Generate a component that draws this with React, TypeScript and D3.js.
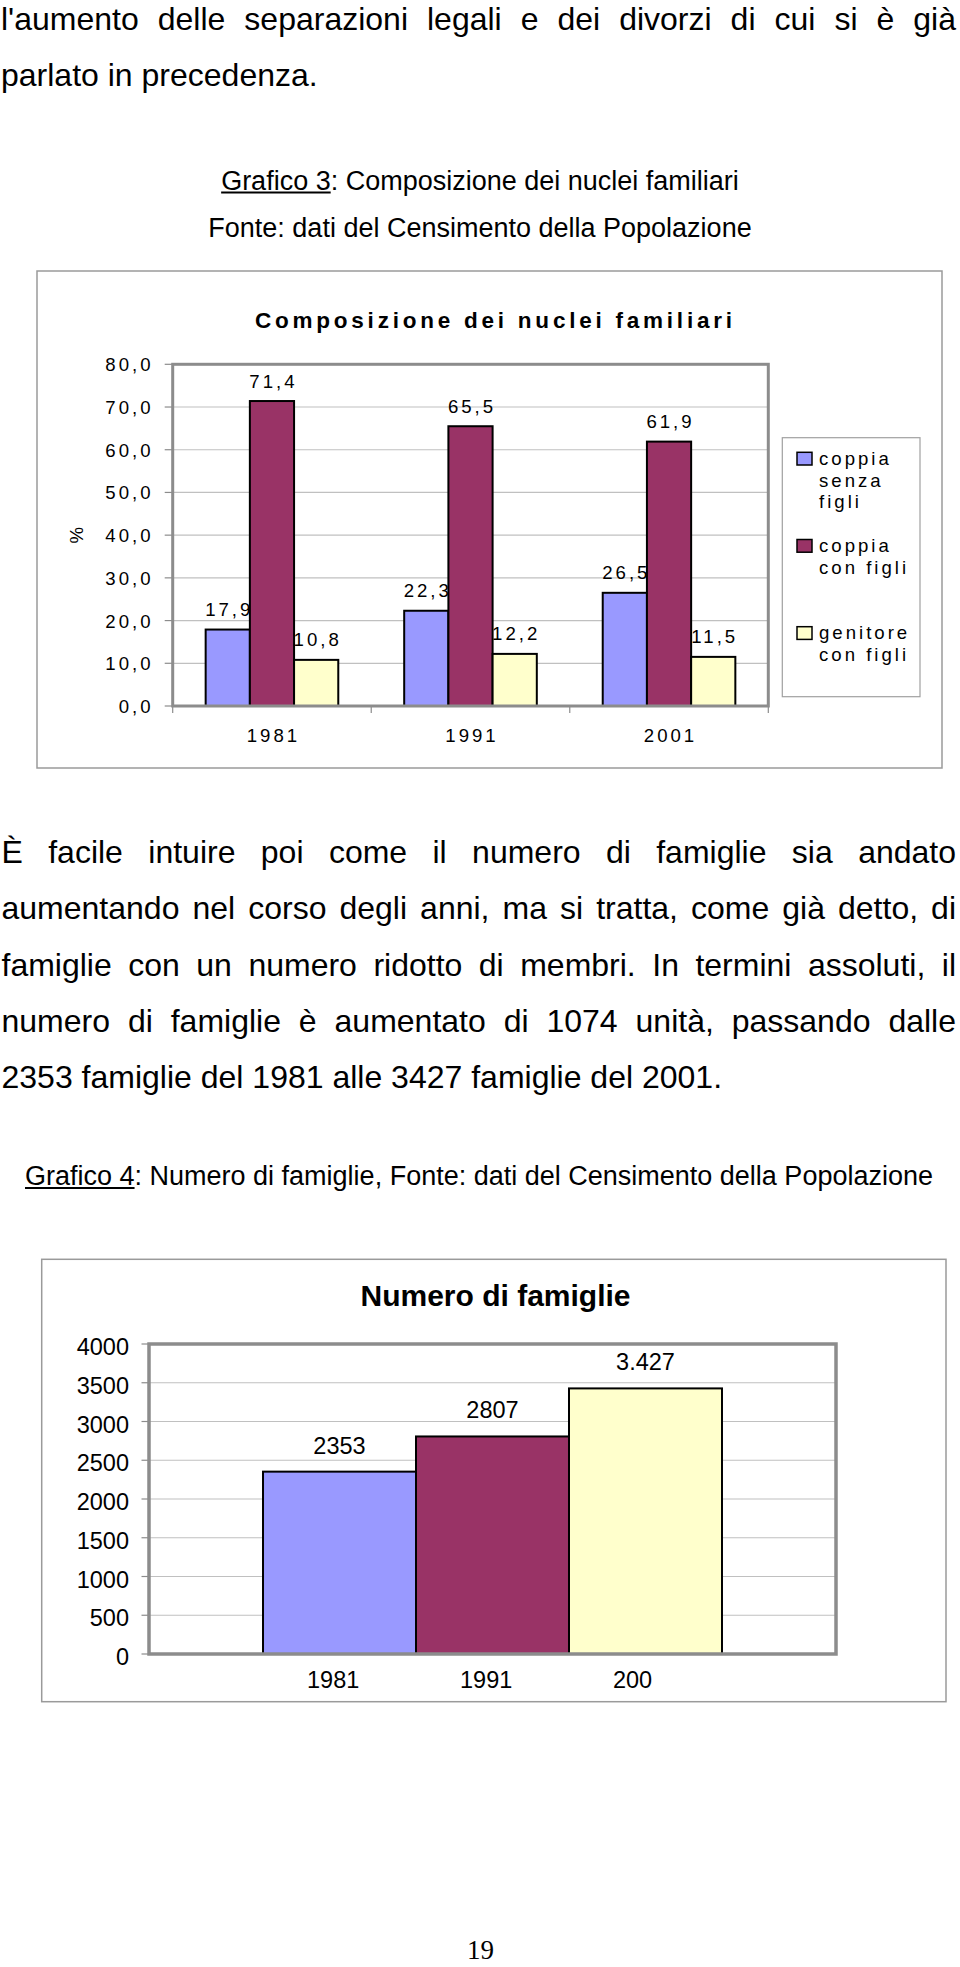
import React from 'react';
import * as d3 from 'd3';

// ---------- data ----------
const years1 = ['1981', '1991', '2001'];
const seriesNames1 = ['coppia senza figli', 'coppia con figli', 'genitore con figli'];
const legendLines1 = [['coppia', 'senza', 'figli'], ['coppia', 'con figli'], ['genitore', 'con figli']];
const coppiaSenzaFigli = [17.9, 22.3, 26.5];
const coppiaConFigli = [71.4, 65.5, 61.9];
const genitoreConFigli = [10.8, 12.2, 11.5];
const yTicks1 = [0, 10, 20, 30, 40, 50, 60, 70, 80];
const title1 = 'Composizione dei nuclei familiari';

const years2 = ['1981', '1991', '2001'];
const xLabels2 = ['1981', '1991', '200'];
const famiglie = [2353, 2807, 3427];
const famiglieLabels = ['2353', '2807', '3.427'];
const yTicks2 = [0, 500, 1000, 1500, 2000, 2500, 3000, 3500, 4000];
const title2 = 'Numero di famiglie';

const colors = ['#9999ff', '#993366', '#ffffcc'];

const para1 = [
  "l'aumento delle separazioni legali e dei divorzi di cui si è già",
  'parlato in precedenza.',
];
const para2 = [
  'È facile intuire poi come il numero di famiglie sia andato',
  'aumentando nel corso degli anni, ma si tratta, come già detto, di',
  'famiglie con un numero ridotto di membri. In termini assoluti, il',
  'numero di famiglie è aumentato di 1074 unità, passando dalle',
  '2353 famiglie del 1981 alle 3427 famiglie del 2001.',
];
const caption3a = ['Grafico 3', ': Composizione dei nuclei familiari'];
const caption3b = 'Fonte: dati del Censimento della Popolazione';
const caption4 = ['Grafico 4', ': Numero di famiglie, Fonte: dati del Censimento della Popolazione'];
const pageNumber = '19';

// ---------- helpers ----------
const SANS = '"Liberation Sans", Arial, sans-serif';
let ctx: CanvasRenderingContext2D | null = null;
function measure(text: string, font: string): number {
  if (!ctx) ctx = document.createElement('canvas').getContext('2d');
  if (!ctx) return text.length * 10;
  ctx.font = font;
  return ctx.measureText(text).width;
}

const comma = d3.formatLocale({ decimal: ',', thousands: '.', grouping: [3], currency: ['', ''] });
const fmt1 = comma.format('.1f');

function Line({ text, x0, x1, y, size, justify }: { text: string; x0: number; x1: number; y: number; size: number; justify: boolean }) {
  const font = `${size}px "Liberation Sans"`;
  const words = text.split(' ');
  const widths = words.map((w) => measure(w, font));
  const total = widths.reduce((a, b) => a + b, 0);
  const gap = justify && words.length > 1 ? (x1 - x0 - total) / (words.length - 1) : measure(' ', font);
  let x = x0;
  return (
    <g>
      {words.map((w, i) => {
        const el = (
          <text key={i} x={x} y={y} fontSize={size} fontFamily={SANS} fill="#000">
            {w}
          </text>
        );
        x += widths[i] + gap;
        return el;
      })}
    </g>
  );
}

function Caption({ parts, cx, y, size }: { parts: string[]; cx: number; y: number; size: number }) {
  const font = `${size}px "Liberation Sans"`;
  const w0 = measure(parts[0], font);
  const w1 = measure(parts[1], font);
  const start = cx - (w0 + w1) / 2;
  return (
    <g>
      <text x={start} y={y} fontSize={size} fontFamily={SANS}>
        {parts[0]}
        {parts[1]}
      </text>
      <line x1={start} x2={start + w0} y1={y + 3} y2={y + 3} stroke="#000" strokeWidth={1.8} />
    </g>
  );
}

// ---------- chart 1 ----------
function Chart1() {
  const L = 172.7, R = 768.3, T = 364.3, B = 706;
  const ls = 3.0;
  const y = d3.scaleLinear().domain([0, 80]).range([B, T]);
  const x0 = d3.scaleBand<string>().domain(years1).range([L, R]).paddingInner(0.332).paddingOuter(0.166);
  const x1 = d3.scaleBand<number>().domain([0, 1, 2]).range([0, x0.bandwidth()]);
  const series = [coppiaSenzaFigli, coppiaConFigli, genitoreConFigli];
  const step = x0.step();
  const bounds = d3.range(years1.length + 1).map((i) => L + i * step);
  const txt = { fontFamily: SANS, fontSize: 18.6, letterSpacing: ls } as const;
  const legX = 782.3, legY = 437.7, legW = 137.7, legH = 259;
  return (
    <g>
      <rect x={37} y={271} width={905} height={497} fill="#fff" stroke="#9a9a9a" strokeWidth={1.5} />
      <text x={255} y={328} fontFamily={SANS} fontSize={22.5} fontWeight="bold" textLength={477} lengthAdjust="spacing">
        {title1}
      </text>
      {yTicks1.slice(1, -1).map((t) => (
        <line key={t} x1={L} x2={R} y1={y(t)} y2={y(t)} stroke="#c0c0c0" strokeWidth={1.2} />
      ))}
      {yTicks1.map((t) => (
        <g key={t}>
          <line x1={L - 8} x2={L} y1={y(t)} y2={y(t)} stroke="#8c8c8c" strokeWidth={1.2} />
          <text x={153.5} y={y(t) + 7} textAnchor="end" {...txt}>
            {fmt1(t)}
          </text>
        </g>
      ))}
      {bounds.map((b, i) => (
        <line key={i} x1={b} x2={b} y1={B} y2={B + 7} stroke="#8c8c8c" strokeWidth={1.2} />
      ))}
      {years1.map((yr, i) => (
        <g key={yr}>
          {series.map((s, j) => {
            const bx = (x0(yr) as number) + (x1(j) as number);
            const bw = x1.bandwidth();
            return (
              <rect key={j} x={bx} y={y(s[i])} width={bw} height={B - y(s[i])} fill={colors[j]} stroke="#000" strokeWidth={2} />
            );
          })}
        </g>
      ))}
      <rect x={L} y={T} width={R - L} height={B - T} fill="none" stroke="#8c8c8c" strokeWidth={3} />
      {years1.map((yr, i) =>
        series.map((s, j) => {
          const cx = (x0(yr) as number) + (x1(j) as number) + x1.bandwidth() / 2;
          return (
            <text key={yr + j} x={cx + ls / 2} y={y(s[i]) - 13.5} textAnchor="middle" {...txt}>
              {fmt1(s[i])}
            </text>
          );
        })
      )}
      {years1.map((yr) => (
        <text key={yr} x={(x0(yr) as number) + x0.bandwidth() / 2 + ls / 2} y={741.7} textAnchor="middle" {...txt}>
          {yr}
        </text>
      ))}
      <text transform={`translate(83.3,${(T + B) / 2}) rotate(-90)`} textAnchor="middle" fontFamily={SANS} fontSize={18.6}>
        %
      </text>
      <rect x={legX} y={legY} width={legW} height={legH} fill="#fff" stroke="#a0a0a0" strokeWidth={1.2} />
      {seriesNames1.map((name, i) => {
        const top = 452.3 + i * 87.2;
        return (
          <g key={name}>
            <rect x={797} y={top} width={15} height={12.7} fill={colors[i]} stroke="#000" strokeWidth={1.5} />
            {legendLines1[i].map((ln, k) => (
              <text key={k} x={819} y={top + 12.7 + k * 21.7} {...txt}>
                {ln}
              </text>
            ))}
          </g>
        );
      })}
    </g>
  );
}

// ---------- chart 2 ----------
function Chart2() {
  const L = 149, R = 836, T = 1344, B = 1654;
  const y = d3.scaleLinear().domain([0, 4000]).range([B, T]);
  const outer = d3.scaleBand<string>().domain(['famiglie']).range([L, R]).paddingOuter(0.2484);
  const gx = outer('famiglie') as number;
  const xs = d3.scaleBand<string>().domain(years2).range([gx, gx + outer.bandwidth()]);
  const txt = { fontFamily: SANS, fontSize: 23.5 } as const;
  return (
    <g>
      <rect x={41.7} y={1259.3} width={904.3} height={442.4} fill="#fff" stroke="#9a9a9a" strokeWidth={1.5} />
      <text x={495.5} y={1306} textAnchor="middle" fontFamily={SANS} fontSize={30} fontWeight="bold">
        {title2}
      </text>
      {yTicks2.slice(1, -1).map((t) => (
        <line key={t} x1={L} x2={R} y1={y(t)} y2={y(t)} stroke="#c0c0c0" strokeWidth={1.2} />
      ))}
      {yTicks2.map((t) => (
        <g key={t}>
          <line x1={L - 7.5} x2={L} y1={y(t)} y2={y(t)} stroke="#8c8c8c" strokeWidth={1.2} />
          <text x={129} y={y(t) + 11} textAnchor="end" {...txt}>
            {t}
          </text>
        </g>
      ))}
      {years2.map((yr, i) => (
        <rect
          key={yr}
          x={xs(yr) as number}
          y={y(famiglie[i])}
          width={xs.bandwidth()}
          height={B - y(famiglie[i])}
          fill={colors[i]}
          stroke="#000"
          strokeWidth={2}
        />
      ))}
      <rect x={L} y={T} width={R - L} height={B - T} fill="none" stroke="#8c8c8c" strokeWidth={3.5} />
      {years2.map((yr, i) => (
        <text key={yr} x={(xs(yr) as number) + xs.bandwidth() / 2} y={y(famiglie[i]) - 18} textAnchor="middle" {...txt}>
          {famiglieLabels[i]}
        </text>
      ))}
      {years2.map((yr, i) => (
        <text key={yr} x={(xs(yr) as number) + 44} y={1688.3} {...txt}>
          {xLabels2[i]}
        </text>
      ))}
    </g>
  );
}

export default function App() {
  const lineStep = 56.4;
  return (
    <div style={{ position: 'absolute', left: 0, top: 0 }}>
      <svg width={960} height={1967} viewBox="0 0 960 1967" style={{ display: 'block', background: '#fff' }}>
        <rect x={0} y={0} width={960} height={1967} fill="#fff" />
        {para1.map((t, i) => (
          <Line key={i} text={t} x0={1} x1={956} y={29.5 + i * lineStep} size={32} justify={i < para1.length - 1} />
        ))}
        <Caption parts={caption3a} cx={480} y={189.5} size={27} />
        <text x={480} y={237.3} textAnchor="middle" fontFamily={SANS} fontSize={27}>
          {caption3b}
        </text>
        <Chart1 />
        {para2.map((t, i) => (
          <Line key={i} text={t} x0={1.5} x1={956} y={862.7 + i * lineStep} size={32} justify={i < para2.length - 1} />
        ))}
        <Caption parts={caption4} cx={479} y={1185} size={27} />
        <Chart2 />
        <text x={467} y={1959} fontFamily={'"Liberation Serif", "Times New Roman", serif'} fontSize={27}>
          {pageNumber}
        </text>
      </svg>
    </div>
  );
}
